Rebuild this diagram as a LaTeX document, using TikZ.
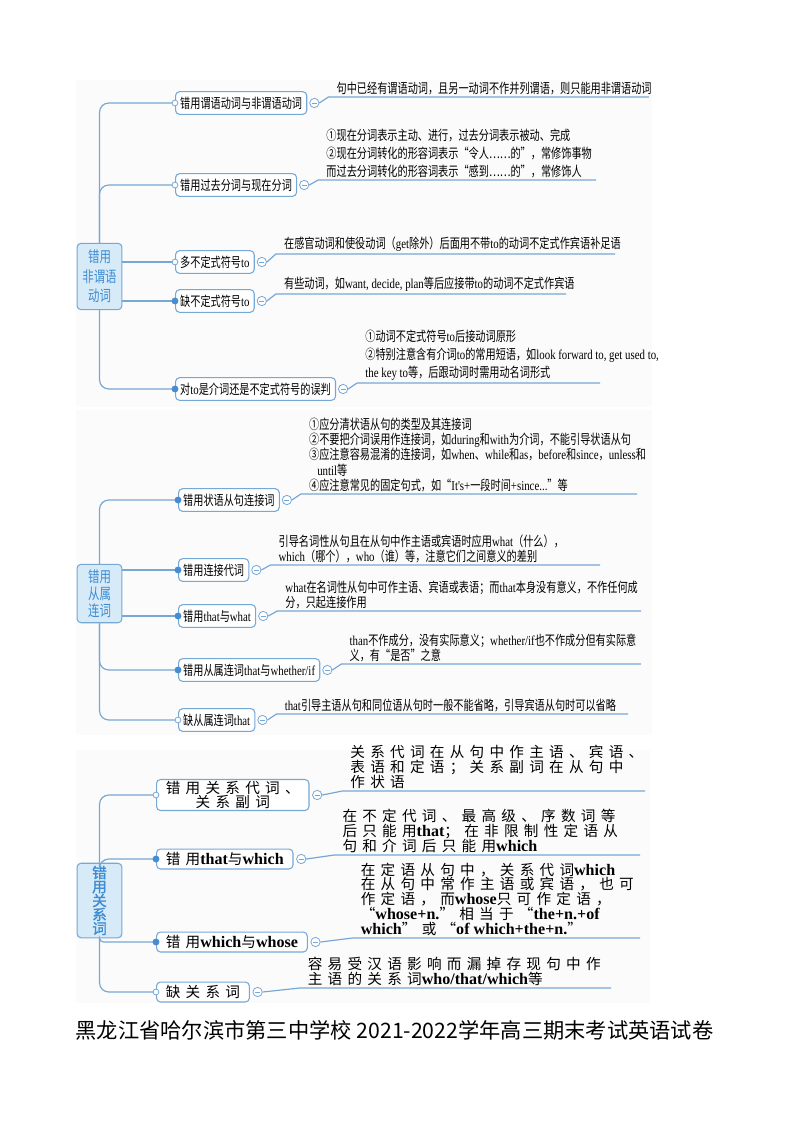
\documentclass[tikz,border=0pt]{standalone}
\usepackage{fontspec}
\setmainfont{Noto Sans CJK SC}
\newfontfamily\cjknarrow[FakeStretch=0.75]{Noto Sans CJK SC}
\newfontfamily\cjkwide[LetterSpace=36]{Noto Sans CJK SC}
\newfontfamily\cjkbold[FakeBold=1.5]{Noto Sans CJK SC}
\newfontfamily\ewfont[FakeStretch=0.8]{Liberation Serif}
\newfontfamily\ewbfont[Scale=1.1]{Liberation Serif}
\newcommand{\ew}[1]{{\ewfont #1}}
\newcommand{\ewb}[1]{{\ewbfont\bfseries #1}}
\usetikzlibrary{positioning}
\definecolor{lineblue}{RGB}{118,168,214}
\definecolor{dotblue}{RGB}{70,140,210}
\definecolor{rootfill}{RGB}{214,234,248}
\definecolor{roottext}{RGB}{62,140,210}
\definecolor{panelbg}{RGB}{251,251,251}

\begin{document}
\begin{tikzpicture}[x=0.02646cm,y=-0.02646cm,
  branch/.style={draw=lineblue,line width=0.9pt,rounded corners=7pt},
  rootbox/.style={draw=lineblue,fill=rootfill,rounded corners=3pt,line width=0.8pt,text=roottext,align=center,inner sep=2pt,minimum width=33.75pt},
  leaf/.style={draw=lineblue,fill=white,rounded corners=3pt,line width=0.8pt,anchor=west,minimum height=17pt,inner xsep=3.5pt,inner ysep=1pt,font=\cjknarrow\fontsize{10.2}{11}\selectfont},
  gxleaf/.style={leaf,align=center,minimum height=15pt,inner xsep=7pt,font=\cjkwide\fontsize{11}{11.2}\selectfont},
  fold/.style={circle,draw=lineblue,fill=white,line width=0.6pt,minimum size=7pt,inner sep=0pt,
    path picture={\draw[lineblue,line width=0.6pt] ([xshift=1.6pt]path picture bounding box.west) -- ([xshift=-1.6pt]path picture bounding box.east);}},
  note/.style={anchor=south west,align=left,inner xsep=6pt,inner ysep=1.5pt,font=\cjknarrow\fontsize{10.2}{#1}\selectfont},
  note/.default=13.5,
  gxnote/.style={anchor=south west,align=left,inner xsep=6pt,inner ysep=1.5pt,font=\cjkwide\fontsize{11}{11.2}\selectfont},
  hdot/.style={draw=lineblue,fill=white,line width=0.6pt},
  fdot/.style={fill=dotblue}]
\useasboundingbox (0,0) rectangle (794,1123);
\fill[panelbg] (76,80) rectangle (652,407);
\fill[panelbg] (76,410) rectangle (652,735);
\fill[panelbg] (76,750) rectangle (650,1003);

% 错用非谓语动词
\node[rootbox,minimum height=50pt,font=\cjknarrow\fontsize{11.5}{14.6}\selectfont] (fw) at (99.5,276.5) {错用\\非谓语\\动词};
\node[leaf] (fw0) at (175,103) {错用谓语动词与非谓语动词};
\node[leaf] (fw1) at (175,185) {错用过去分词与现在分词};
\node[leaf] (fw2) at (175,262) {多不定式符号\ew{to}};
\node[leaf] (fw3) at (175,301) {缺不定式符号\ew{to}};
\node[leaf] (fw4) at (175,389) {对\ew{to}是介词还是不定式符号的误判};
\node[fold,right=1.5pt of fw0] (fwm0) {};
\node[fold,right=1.5pt of fw1] (fwm1) {};
\node[fold,right=1.5pt of fw2] (fwm2) {};
\node[fold,right=1.5pt of fw3] (fwm3) {};
\node[fold,right=1.5pt of fw4] (fwm4) {};
\node[note] (fwn0) at ([shift={(9,-6)}]fwm0.east) {句中已经有谓语动词，且另一动词不作并列谓语，则只能用非谓语动词};
\node[note] (fwn1) at ([shift={(9,-5)}]fwm1.east) {①现在分词表示主动、进行，过去分词表示被动、完成\\②现在分词转化的形容词表示“令人……的”，常修饰事物\\而过去分词转化的形容词表示“感到……的”，常修饰人};
\node[note] (fwn2) at ([shift={(9,-8)}]fwm2.east) {在感官动词和使役动词（\ew{get}除外）后面用不带\ew{to}的动词不定式作宾语补足语};
\node[note] (fwn3) at ([shift={(9,-7)}]fwm3.east) {有些动词，如\ew{want, decide, plan}等后应接带\ew{to}的动词不定式作宾语};
\node[note] (fwn4) at ([shift={(9,-6)}]fwm4.east) {①动词不定式符号\ew{to}后接动词原形\\②特别注意含有介词\ew{to}的常用短语，如\ew{look forward to, get used to,}\\\ew{the key to}等，后跟动词时需用动名词形式};
\coordinate (fwr0) at (649,0);
\coordinate (fwr1) at (596,0);
\coordinate (fwr2) at (615,0);
\coordinate (fwr3) at (566,0);
\coordinate (fwr4) at (600,0);
\draw[branch] (fw.north) |- (fw0.west);
\draw[branch] (fw.north) |- (fw1.west);
\draw[branch] (fw.east |- fw2.west) -- (fw2.west);
\draw[branch] (fw.east |- fw3.west) -- (fw3.west);
\draw[branch] (fw.south) |- (fw4.west);
\draw[branch,rounded corners=0pt] (fwm0.east) -- (fwn0.south west) -- (fwn0.south west -| fwr0);
\draw[branch,rounded corners=0pt] (fwm1.east) -- (fwn1.south west) -- (fwn1.south west -| fwr1);
\draw[branch,rounded corners=0pt] (fwm2.east) -- (fwn2.south west) -- (fwn2.south west -| fwr2);
\draw[branch,rounded corners=0pt] (fwm3.east) -- (fwn3.south west) -- (fwn3.south west -| fwr3);
\draw[branch,rounded corners=0pt] (fwm4.east) -- (fwn4.south west) -- (fwn4.south west -| fwr4);
\filldraw[hdot] (fw0.west) circle (2.2pt);
\filldraw[hdot] (fw1.west) circle (2.2pt);
\filldraw[hdot] (fw2.west) circle (2.2pt);
\fill[fdot] (fw3.west) circle (2.6pt);
\fill[fdot] (fw4.west) circle (2.6pt);

% 错用从属连词
\node[rootbox,minimum height=44pt,font=\cjknarrow\fontsize{11.5}{12.8}\selectfont] (cl) at (99.5,593.5) {错用\\从属\\连词};
\node[leaf] (cl0) at (178,500) {错用状语从句连接词};
\node[leaf] (cl1) at (178,570) {错用连接代词};
\node[leaf] (cl2) at (178,616) {错用\ew{that}与\ew{what}};
\node[leaf] (cl3) at (178,670) {错用从属连词\ew{that}与\ew{whether/if}};
\node[leaf] (cl4) at (178,720) {缺从属连词\ew{that}};
\node[fold,right=1.5pt of cl0] (clm0) {};
\node[fold,right=1.5pt of cl1] (clm1) {};
\node[fold,right=1.5pt of cl2] (clm2) {};
\node[fold,right=1.5pt of cl3] (clm3) {};
\node[fold,right=1.5pt of cl4] (clm4) {};
\node[note=11.5] (cln0) at ([shift={(9,-6)}]clm0.east) {①应分清状语从句的类型及其连接词\\②不要把介词误用作连接词，如\ew{during}和\ew{with}为介词，不能引导状语从句\\③应注意容易混淆的连接词，如\ew{when}、\ew{while}和\ew{as}，\ew{before}和\ew{since}，\ew{unless}和\\\hspace*{0.6em}\ew{until}等\\④应注意常见的固定句式，如“\ew{It's+}一段时间\ew{+since...}”等};
\node[note=11.5] (cln1) at ([shift={(9,-5)}]clm1.east) {引导名词性从句且在从句中作主语或宾语时应用\ew{what}（什么），\\\ew{which}（哪个），\ew{who}（谁）等，注意它们之间意义的差别};
\node[note=11.5] (cln2) at ([shift={(9,-5)}]clm2.east) {\ew{what}在名词性从句中可作主语、宾语或表语；而\ew{that}本身没有意义，不作任何成\\分，只起连接作用};
\node[note=11.5] (cln3) at ([shift={(9,-6)}]clm3.east) {\ew{than}不作成分，没有实际意义；\ew{whether/if}也不作成分但有实际意\\义，有“是否”之意};
\node[note=11.5] (cln4) at ([shift={(9,-6)}]clm4.east) {\ew{that}引导主语从句和同位语从句时一般不能省略，引导宾语从句时可以省略};
\coordinate (clr0) at (637,0);
\coordinate (clr1) at (600,0);
\coordinate (clr2) at (641,0);
\coordinate (clr3) at (641,0);
\coordinate (clr4) at (628,0);
\draw[branch] (cl.north) |- (cl0.west);
\draw[branch] (cl.east |- cl1.west) -- (cl1.west);
\draw[branch] (cl.east |- cl2.west) -- (cl2.west);
\draw[branch] (cl.south) |- (cl3.west);
\draw[branch] (cl.south) |- (cl4.west);
\draw[branch,rounded corners=0pt] (clm0.east) -- (cln0.south west) -- (cln0.south west -| clr0);
\draw[branch,rounded corners=0pt] (clm1.east) -- (cln1.south west) -- (cln1.south west -| clr1);
\draw[branch,rounded corners=0pt] (clm2.east) -- (cln2.south west) -- (cln2.south west -| clr2);
\draw[branch,rounded corners=0pt] (clm3.east) -- (cln3.south west) -- (cln3.south west -| clr3);
\draw[branch,rounded corners=0pt] (clm4.east) -- (cln4.south west) -- (cln4.south west -| clr4);
\fill[fdot] (cl0.west) circle (2.6pt);
\fill[fdot] (cl1.west) circle (2.6pt);
\fill[fdot] (cl2.west) circle (2.6pt);
\fill[fdot] (cl3.west) circle (2.6pt);
\filldraw[hdot] (cl4.west) circle (2.2pt);

% 错用关系词
\node[rootbox,minimum height=52pt,font=\cjkbold\fontsize{11}{10.5}\selectfont] (gx) at (99.5,900.5) {错\\用\\关\\系\\词};
\node[gxleaf] (gx0) at (156,795) {错用关系代词、\\关系副词};
\node[gxleaf] (gx1) at (156,859) {错用\ewb{that}与\ewb{which}};
\node[gxleaf] (gx2) at (156,942) {错用\ewb{which}与\ewb{whose}};
\node[gxleaf] (gx3) at (156,992) {缺关系词};
\node[fold,right=2pt of gx0] (gxm0) {};
\node[fold,right=2pt of gx1] (gxm1) {};
\node[fold,right=2pt of gx2] (gxm2) {};
\node[fold,right=2pt of gx3] (gxm3) {};
\node[gxnote] (gxn0) at ([shift={(20,-4)}]gxm0.east) {关系代词在从句中作主语、宾语、\\表语和定语；关系副词在从句中\\作状语};
\node[gxnote] (gxn1) at ([shift={(28,-4)}]gxm1.east) {在不定代词、最高级、序数词等\\后只能用\ewb{that}；在非限制性定语从\\句和介词后只能用\ewb{which}};
\node[gxnote] (gxn2) at ([shift={(32,-4)}]gxm2.east) {在定语从句中，关系代词\ewb{which}\\在从句中常作主语或宾语，也可\\作定语，而\ewb{whose}只可作定语，\\“\ewb{whose+n.}”相当于“\ewb{the+n.+of}\\\ewb{which}”或“\ewb{of which+the+n.}”};
\node[gxnote] (gxn3) at ([shift={(37,-4)}]gxm3.east) {容易受汉语影响而漏掉存现句中作\\主语的关系词\ewb{who/that/which}等};
\coordinate (gxr0) at (645,0);
\coordinate (gxr1) at (640,0);
\coordinate (gxr2) at (640,0);
\coordinate (gxr3) at (611,0);
\draw[branch] (gx.north) |- (gx0.west);
\draw[branch] (gx.north) |- (gx1.west);
\draw[branch,rounded corners=3pt] (gx.south) |- (gx2.west);
\draw[branch] (gx.south) |- (gx3.west);
\draw[branch,rounded corners=0pt] (gxm0.east) -- (gxn0.south west) -- (gxn0.south west -| gxr0);
\draw[branch,rounded corners=0pt] (gxm1.east) -- (gxn1.south west) -- (gxn1.south west -| gxr1);
\draw[branch,rounded corners=0pt] (gxm2.east) -- (gxn2.south west) -- (gxn2.south west -| gxr2);
\draw[branch,rounded corners=0pt] (gxm3.east) -- (gxn3.south west) -- (gxn3.south west -| gxr3);
\filldraw[hdot] (gx0.west) circle (2.2pt);
\fill[fdot] (gx1.west) circle (2.6pt);
\fill[fdot] (gx2.west) circle (2.6pt);
\filldraw[hdot] (gx3.west) circle (2.2pt);

\node[font=\fontsize{16}{18}\selectfont] (title) at (394.5,1030) {黑龙江省哈尔滨市第三中学校 2021-2022学年高三期末考试英语试卷};
\end{tikzpicture}
\end{document}
